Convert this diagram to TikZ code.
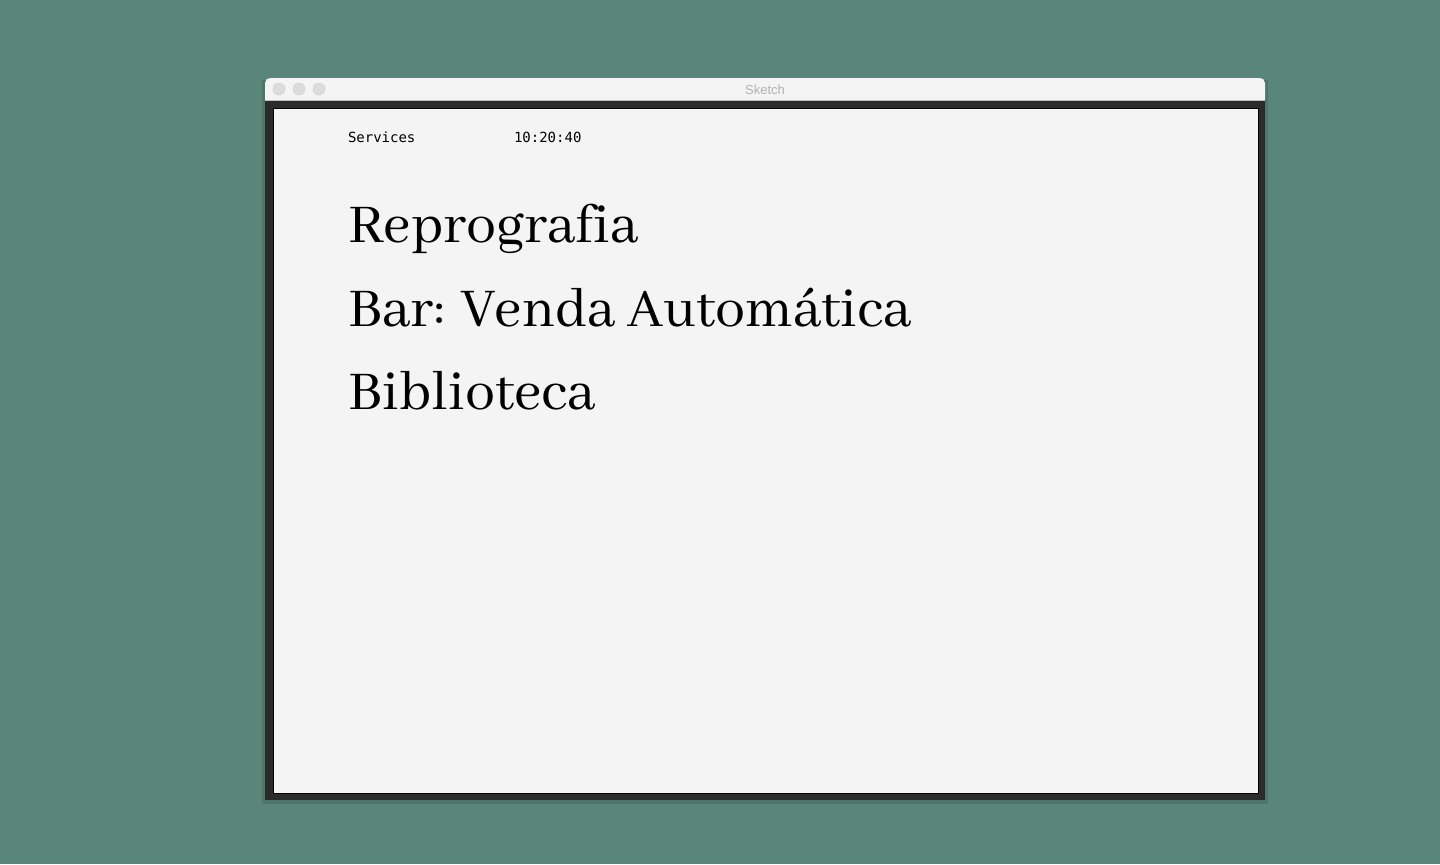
\documentclass[tikz,border=0pt]{standalone}
\usepackage{fontspec}
\setmainfont{Abhaya Libre}[Ligatures=NoCommon]
\setsansfont{Liberation Sans}
\setmonofont{DejaVu Sans Mono}
\usetikzlibrary{positioning}
\definecolor{desk}{HTML}{598679}
\definecolor{paper}{HTML}{F4F4F4}
\definecolor{frame}{HTML}{2B2B2B}
\definecolor{lamp}{HTML}{DCDCDC}
\definecolor{titlegray}{HTML}{B2B2B2}

\begin{document}
\begin{tikzpicture}[x=0.5pt, y=-0.5pt, inner sep=0pt, outer sep=0pt]
    \tikzstyle{lamp}=[circle, fill=lamp, draw=black!17, line width=0.3pt, minimum size=6pt]
    \tikzstyle{item}=[anchor=base west, font=\fontsize{30}{36}\selectfont]
    \tikzstyle{status}=[anchor=base west, font=\ttfamily\fontsize{7}{8}\selectfont]

    % background and window
    \fill[desk] (0,0) rectangle (1440,864);
    \useasboundingbox (0,0) rectangle (1440,864);
    \fill[black, opacity=0.12] (262,80) rectangle (1268,804);
    \fill[paper, rounded corners=2.5pt] (265,78) rectangle (1265,104);
    \fill[paper] (265,92) rectangle (1265,100);
    \draw[black!25, line width=0.5pt] (265,100) -- (1265,100);
    \fill[frame] (265,100.5) rectangle (1265,800);
    \fill[paper, draw=black, line width=0.4pt] (273,108) rectangle (1258,793);

    \node[lamp] (close) at (279,89) {};
    \node[lamp, right=4pt of close] (min) {};
    \node[lamp, right=4pt of min] (max) {};
    \node[font=\sffamily\fontsize{6.5}{8}\selectfont, text=titlegray] (title) at (765,89.5) {Sketch};

    % status line
    \node[status] (services) at (348,142) {Services};
    \node[status] (clock) at (514,142) {10:20:40};

    % list of services
    \node[item] (repro) at (348,242) {Reprografia};
    \node[item] (bar) at (348,326) {Bar: Venda Automática};
    \node[item] (biblio) at (348,409) {Biblioteca};
\end{tikzpicture}
\end{document}
